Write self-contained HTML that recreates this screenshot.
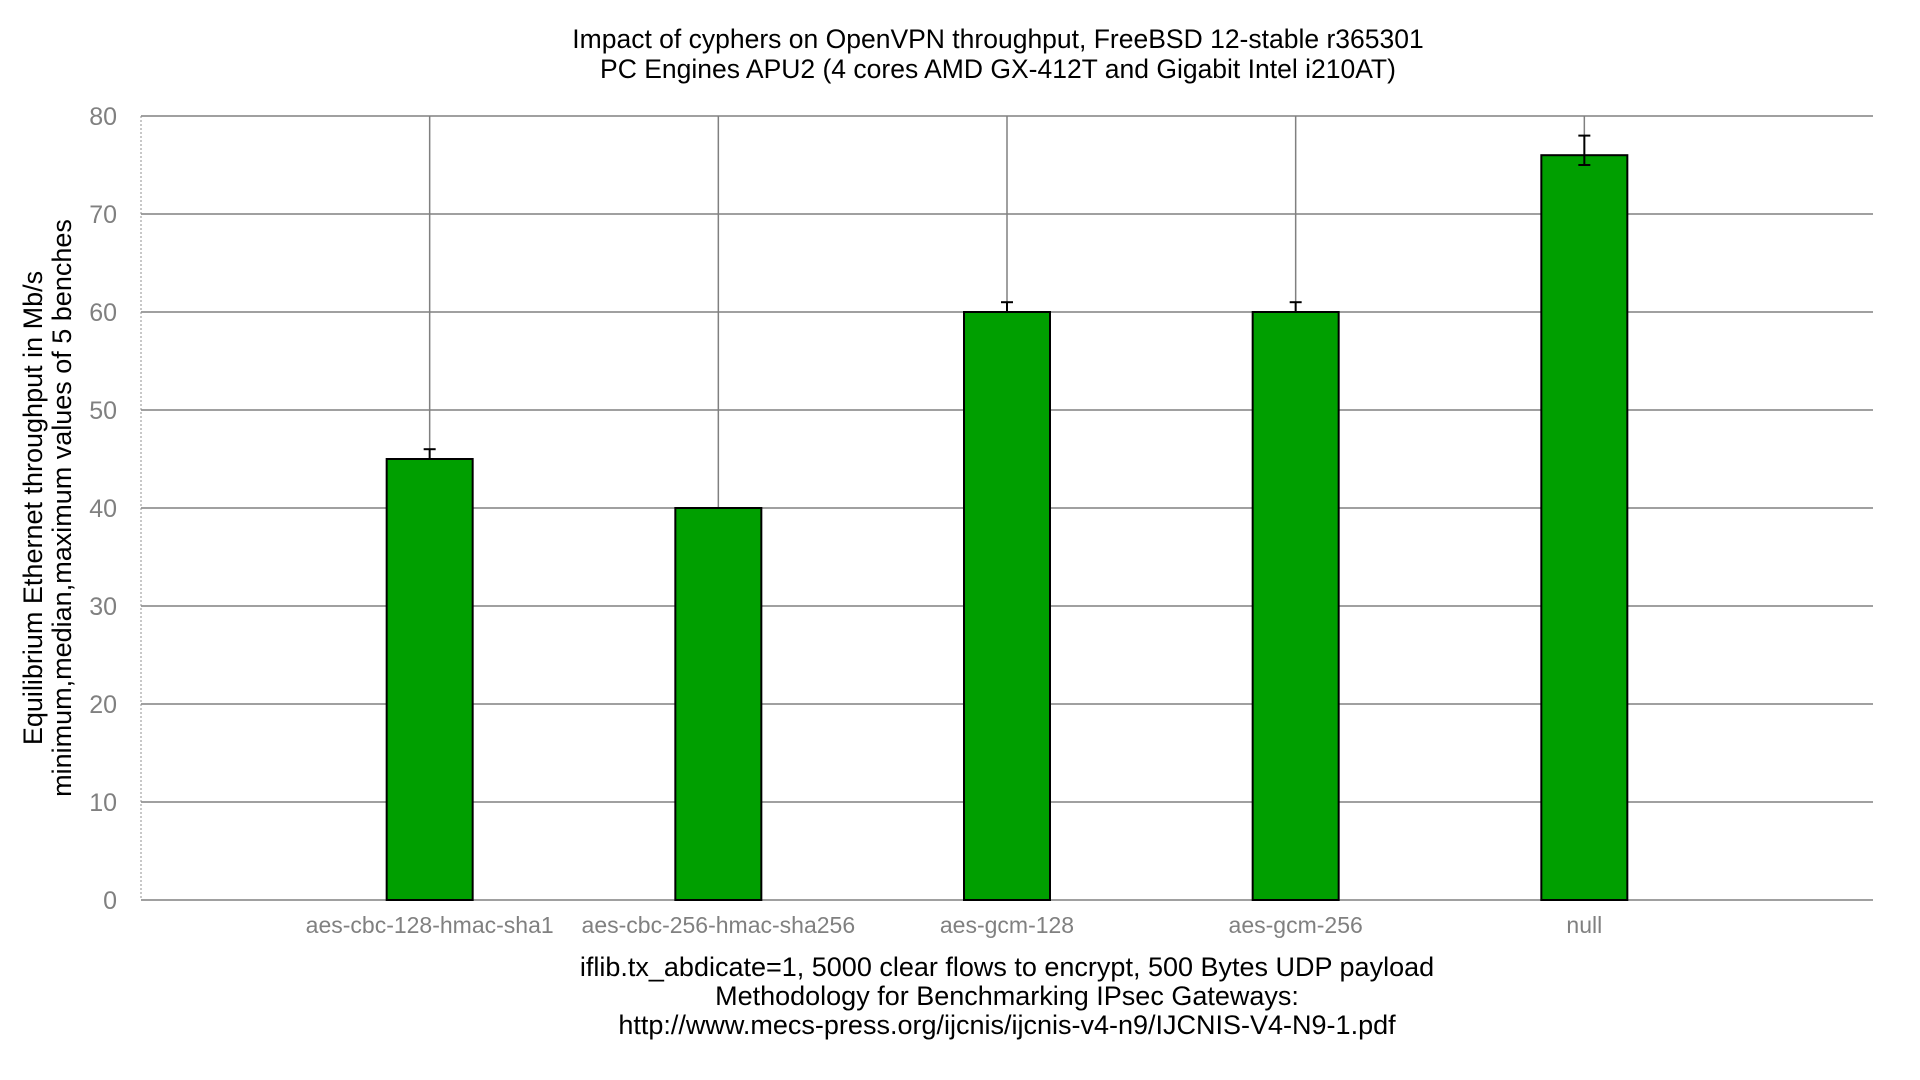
<!DOCTYPE html>
<html><head><meta charset="utf-8"><style>
html,body{margin:0;padding:0;background:#fff;}
svg{display:block;font-family:"Liberation Sans",sans-serif;}
</style></head><body>
<svg id="chart" width="1920" height="1080" viewBox="0 0 1920 1080" xmlns="http://www.w3.org/2000/svg">
<text x="998" y="48" font-size="26.5" text-anchor="middle" fill="#000">Impact of cyphers on OpenVPN throughput, FreeBSD 12-stable r365301</text>
<text x="998" y="78" font-size="26.5" text-anchor="middle" fill="#000">PC Engines APU2 (4 cores AMD GX-412T and Gigabit Intel i210AT)</text>
<g transform="translate(42,508) rotate(-90)">
<text x="0" y="0" font-size="27" text-anchor="middle" fill="#000">Equilibrium Ethernet throughput in Mb/s</text>
<text x="0" y="29" font-size="27" text-anchor="middle" fill="#000">minimum,median,maximum values of 5 benches</text>
</g>
<g id="grid"></g>
<g id="bars"></g>
<g id="yticks"></g>
<g id="xticks"></g>
<text x="1007" y="976" font-size="27" text-anchor="middle" fill="#000">iflib.tx_abdicate=1, 5000 clear flows to encrypt, 500 Bytes UDP payload</text>
<text x="1007" y="1005" font-size="27" text-anchor="middle" fill="#000">Methodology for Benchmarking IPsec Gateways:</text>
<text x="1007" y="1034" font-size="27" text-anchor="middle" fill="#000">http://www.mecs-press.org/ijcnis/ijcnis-v4-n9/IJCNIS-V4-N9-1.pdf</text>
</svg>
<script>
const categories = ["aes-cbc-128-hmac-sha1","aes-cbc-256-hmac-sha256","aes-gcm-128","aes-gcm-256","null"];
const medians = [45, 40, 60, 60, 76];
const mins = [45, 40, 60, 60, 75];
const maxs = [46, 40, 61, 61, 78];
const yTicks = [0,10,20,30,40,50,60,70,80];

const NS = "http://www.w3.org/2000/svg";
const L = 141, R = 1873, T = 116, B = 900, yMax = 80;
function y(v){ return B - (v / yMax) * (B - T); }
function x(i){ return L + (R - L) * (i + 1) / (categories.length + 1); }
function mk(tag, attrs, parent){ const e = document.createElementNS(NS, tag); for (const k in attrs) e.setAttribute(k, attrs[k]); parent.appendChild(e); return e; }

const grid = document.getElementById('grid');
const bars = document.getElementById('bars');
const yt = document.getElementById('yticks');
const xt = document.getElementById('xticks');

yTicks.forEach(v => {
  const l = mk('line', {x1: L, x2: R, y1: y(v), y2: y(v), stroke: '#808080', 'stroke-width': 1.5}, grid);
  
  
  const t = mk('text', {x: 117, y: y(v) + 9, 'font-size': 25, 'text-anchor': 'end', fill: '#808080'}, yt);
  
  
  t.textContent = v;
});
const ax = mk('line', {x1: L, x2: L, y1: T, y2: B, stroke: '#909090', 'stroke-width': 1, 'stroke-dasharray': '2,2'}, grid);



const bw = 86;
categories.forEach((c, i) => {
  const cx = x(i);
  const g = mk('line', {x1: cx, x2: cx, y1: T, y2: B, stroke: '#808080', 'stroke-width': 1.5}, grid);
  
  
  const r = mk('rect', {x: cx - bw/2, y: y(medians[i]), width: bw, height: B - y(medians[i]), fill: '#009f00', stroke: '#000', 'stroke-width': 2}, bars);
  
  
  if (maxs[i] !== mins[i]) {
    const eg = mk('g', {stroke: '#000', 'stroke-width': 2}, bars);
    
    
    mk('line', {x1: cx, x2: cx, y1: y(maxs[i]), y2: y(mins[i])}, eg);
    mk('line', {x1: cx - 6, x2: cx + 6, y1: y(maxs[i]), y2: y(maxs[i])}, eg);
    mk('line', {x1: cx - 6, x2: cx + 6, y1: y(mins[i]), y2: y(mins[i])}, eg);
  }
  const t = mk('text', {x: cx, y: 933, 'font-size': 23, 'text-anchor': 'middle', fill: '#808080'}, xt);
  
  
  t.textContent = c;
});
</script>
</body></html>
